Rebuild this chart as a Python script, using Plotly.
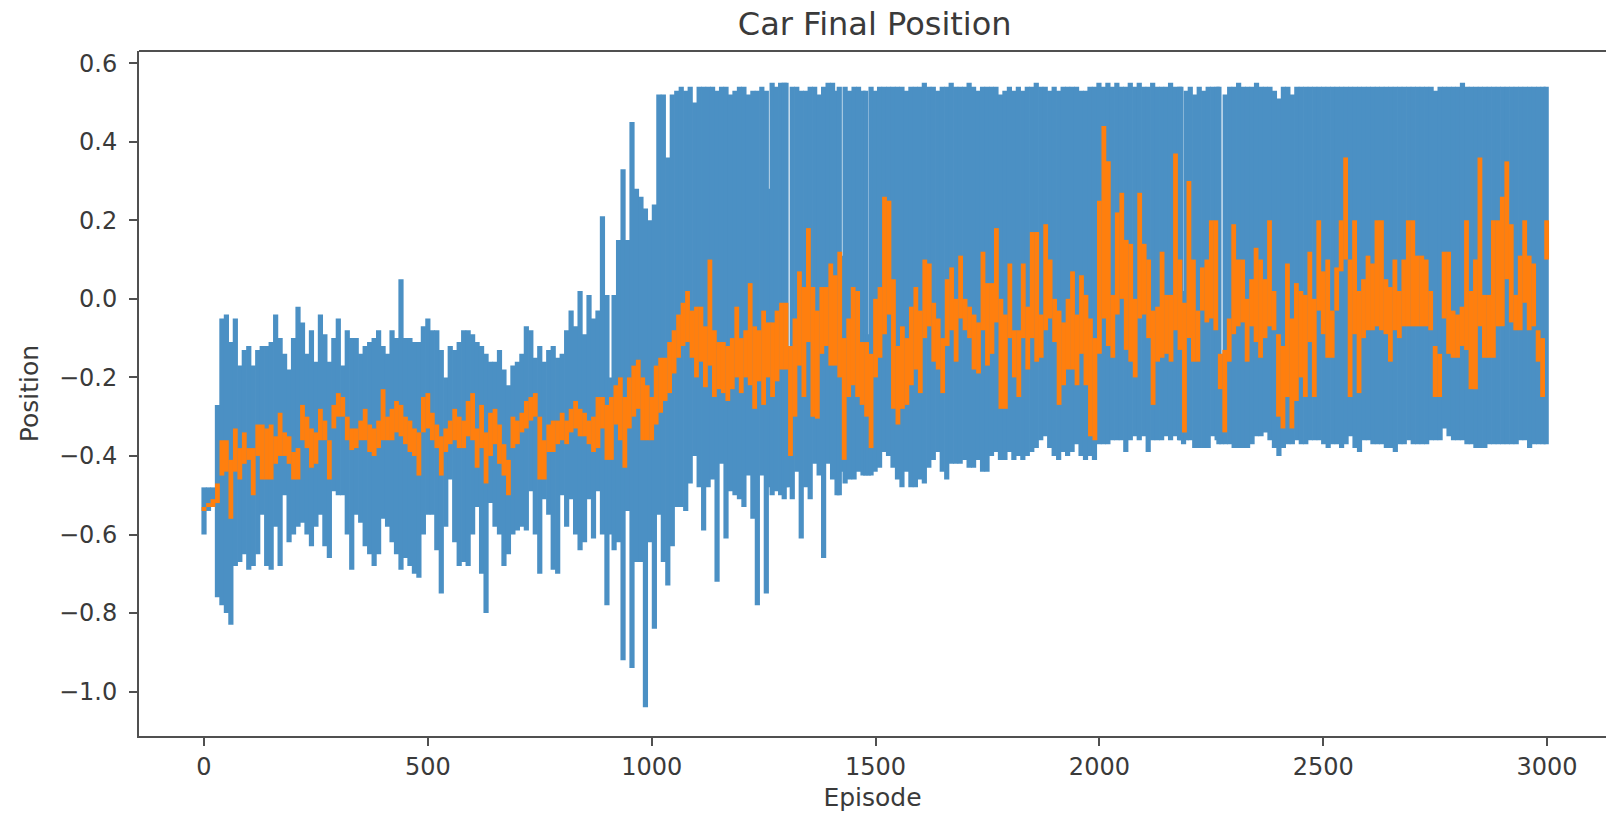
import plotly.graph_objects as go

# Blue series: the range swept by the raw per-episode values
blue_episodes = [
 0,10,20,30,40,50,60,70,80,90,
 100,110,120,130,140,150,160,170,180,190,
 200,210,220,230,240,250,260,270,280,290,
 300,310,320,330,340,350,360,370,380,390,
 400,410,420,430,440,450,460,470,480,490,
 500,510,520,530,540,550,560,570,580,590,
 600,610,620,630,640,650,660,670,680,690,
 700,710,720,730,740,750,760,770,780,790,
 800,810,820,830,840,850,860,870,880,
 890,900,907,916,926,936,946,956,966,976,986,996,
 1006,1016,1026,1036,1046,1056,1066,1076,1086,1096,
 1106,1116,1126,1136,1146,1156,1166,1176,1186,1196,
 1206,1216,1226,1236,1246,1256,1264,1269,1278,1288,1296,1300,
 1306,1314,1324,1334,1344,1354,1364,1374,1384,1394,
 1404,1414,1419,1425,1432,1442,1452,1462,1472,1478,1484,1490,1499,
 1509,1519,1529,1539,1549,1559,1569,1579,1589,1599,
 1609,1619,1629,1639,1649,1659,1669,1679,1689,1699,
 1709,1719,1729,1739,1749,1759,1769,1779,1789,1799,
 1809,1819,1829,1839,1849,1859,1869,1879,1889,1899,
 1909,1919,1929,1939,1949,1959,1969,1979,1989,1999,
 2009,2019,2029,2039,2049,2059,2069,2079,2089,2099,
 2109,2119,2129,2139,2149,2159,2169,2179,2182,2188,2194,
 2203,2213,2223,2233,2243,2253,2263,2267,2273,2281,2291,
 2301,2311,2321,2331,2341,2351,2361,2371,2381,2391,
 2401,2411,2421,2431,2441,2451,2461,2471,2481,2491,
 2501,2511,2521,2531,2541,2551,2561,2571,2581,2591,
 2601,2611,2621,2631,2641,2651,2661,2671,2681,2691,
 2701,2711,2721,2731,2741,2751,2761,2771,2781,2791,
 2801,2811,2821,2831,2841,2851,2861,2871,2881,2891,
 2901,2911,2921,2931,2941,2951,2961,2971,2981,2991,2998,
]
blue_high = [
 -.48,-.48,-.48,-.27,-.05,-.04,-.11,-.05,-.17,-.13,
 -.12,-.17,-.13,-.12,-.12,-.11,-.04,-.10,-.14,-.18,
 -.10,-.02,-.06,-.14,-.08,-.16,-.04,-.09,-.16,-.10,
 -.05,-.17,-.08,-.10,-.10,-.14,-.12,-.11,-.10,-.08,
 -.12,-.14,-.08,-.10,.05,-.10,-.10,-.11,-.11,-.07,
 -.05,-.08,-.08,-.13,-.20,-.12,-.13,-.11,-.08,-.08,
 -.09,-.11,-.12,-.14,-.16,-.16,-.13,-.18,-.22,-.17,
 -.16,-.14,-.07,-.08,-.15,-.12,-.16,-.13,-.12,-.15,
 -.14,-.08,-.03,-.07,.02,-.09,.01,-.05,-.03,
 .21,.01,-.20,.01,.15,.33,.15,.45,.28,.26,.23,.20,
 .24,.52,.52,.36,.52,.53,.54,.53,.54,.50,
 .54,.54,.54,.54,.53,.54,.54,.52,.53,.54,
 .54,.52,.53,.53,.54,.53,.28,.55,.54,.55,.55,.55,
 -.12,.54,.54,.53,.53,.54,.54,.52,.54,.55,
 .55,.53,.54,.11,.54,.53,.54,.54,.53,.53,-.09,.54,.53,
 .54,.54,.54,.54,.54,.54,.53,.54,.54,.54,
 .55,.54,.54,.53,.54,.54,.55,.54,.54,.54,
 .55,.54,.53,.54,.54,.54,.54,.52,.53,.54,
 .53,.54,.53,.54,.54,.55,.54,.54,.53,.54,
 .53,.54,.54,.54,.54,.53,.53,.54,.54,.55,
 .54,.55,.54,.55,.54,.54,.55,.54,.55,.54,
 .54,.55,.54,.54,.54,.55,.54,.54,.54,.02,.53,
 .54,.52,.54,.53,.54,.54,.54,.54,-.14,.52,.54,
 .54,.55,.54,.54,.54,.55,.54,.54,.54,.53,
 .51,.54,.54,.52,.54,.54,.54,.54,.54,.54,
 .54,.54,.54,.54,.54,.54,.54,.54,.54,.54,
 .54,.54,.54,.54,.54,.54,.54,.54,.54,.54,
 .54,.54,.54,.54,.54,.53,.54,.54,.54,.54,
 .54,.55,.54,.54,.54,.54,.54,.54,.54,.54,
 .54,.54,.54,.54,.54,.54,.54,.54,.54,.54,.54,
]
blue_low = [
 -.60,-.54,-.53,-.76,-.78,-.80,-.83,-.68,-.67,-.65,
 -.69,-.68,-.65,-.55,-.68,-.69,-.58,-.68,-.50,-.62,
 -.60,-.58,-.57,-.60,-.63,-.58,-.55,-.63,-.66,-.49,
 -.50,-.50,-.60,-.69,-.55,-.57,-.63,-.65,-.68,-.65,
 -.56,-.58,-.62,-.65,-.69,-.66,-.68,-.70,-.71,-.60,
 -.55,-.55,-.64,-.75,-.58,-.46,-.62,-.68,-.67,-.68,
 -.60,-.53,-.70,-.80,-.52,-.58,-.60,-.68,-.65,-.60,
 -.59,-.58,-.59,-.49,-.60,-.70,-.51,-.55,-.69,-.70,
 -.50,-.58,-.51,-.60,-.64,-.62,-.51,-.61,-.49,
 -.60,-.78,-.60,-.64,-.62,-.92,-.54,-.94,-.67,-.67,-1.04,-.62,
 -.84,-.55,-.67,-.73,-.63,-.53,-.53,-.54,-.47,-.40,
 -.48,-.59,-.48,-.46,-.72,-.42,-.61,-.49,-.50,-.51,
 -.53,-.45,-.56,-.78,-.45,-.75,-.48,-.50,-.49,-.50,-.51,-.48,
 -.48,-.51,-.44,-.61,-.48,-.51,-.42,-.45,-.66,-.42,
 -.46,-.50,-.50,-.44,-.47,-.46,-.46,-.44,-.45,-.45,-.45,-.45,-.44,
 -.43,-.39,-.40,-.43,-.46,-.48,-.44,-.48,-.48,-.46,
 -.47,-.43,-.41,-.39,-.44,-.46,-.42,-.42,-.42,-.41,
 -.43,-.43,-.41,-.44,-.44,-.40,-.39,-.41,-.41,-.39,
 -.41,-.40,-.41,-.40,-.39,-.38,-.36,-.35,-.38,-.40,
 -.41,-.39,-.40,-.39,-.37,-.40,-.41,-.40,-.41,-.37,
 -.37,-.37,-.36,-.36,-.36,-.39,-.36,-.35,-.36,-.35,
 -.39,-.36,-.36,-.36,-.35,-.36,-.35,-.36,-.36,-.37,-.36,
 -.36,-.38,-.38,-.38,-.38,-.35,-.36,-.37,-.37,-.37,-.37,
 -.38,-.38,-.38,-.38,-.37,-.35,-.35,-.34,-.36,-.38,
 -.40,-.38,-.37,-.37,-.36,-.37,-.37,-.36,-.36,-.36,
 -.37,-.38,-.37,-.37,-.38,-.37,-.35,-.38,-.39,-.36,
 -.36,-.37,-.37,-.37,-.38,-.38,-.39,-.37,-.37,-.36,
 -.37,-.37,-.37,-.37,-.36,-.36,-.36,-.33,-.35,-.36,
 -.36,-.36,-.37,-.37,-.38,-.38,-.38,-.37,-.37,-.37,
 -.37,-.37,-.37,-.37,-.36,-.36,-.38,-.37,-.37,-.37,-.37,
]

# Orange series: smoothed values, high and low of each 10-episode column
orange_episodes = [e for e in range(0, 3000, 10)] + [2999]
orange_high = [
 -.53,-.52,-.51,-.47,-.36,-.36,-.41,-.33,-.38,-.34,
 -.38,-.38,-.32,-.32,-.33,-.32,-.35,-.29,-.34,-.35,
 -.39,-.38,-.27,-.30,-.33,-.34,-.28,-.31,-.36,-.27,
 -.24,-.25,-.30,-.33,-.33,-.31,-.28,-.32,-.33,-.31,
 -.23,-.30,-.28,-.26,-.27,-.30,-.31,-.33,-.34,-.25,
 -.24,-.29,-.32,-.35,-.33,-.31,-.28,-.30,-.31,-.26,
 -.24,-.33,-.27,-.34,-.29,-.28,-.32,-.37,-.41,-.30,
 -.31,-.29,-.26,-.25,-.24,-.30,-.36,-.32,-.31,-.31,
 -.29,-.31,-.28,-.26,-.28,-.29,-.31,-.30,-.25,-.25,
 -.27,-.25,-.22,-.20,-.25,-.20,-.17,-.155,-.20,-.22,
 -.25,-.17,-.15,-.15,-.11,-.08,-.04,-.01,.02,-.03,
 -.02,-.02,-.07,.10,-.08,-.11,-.11,-.12,-.10,-.02,
 -.10,-.08,.04,-.07,-.08,-.03,-.06,-.06,-.03,-.01,
 -.01,-.12,-.05,.07,.03,.18,.03,-.03,.03,.03,
 .09,.06,.12,-.10,-.05,.03,.02,-.11,-.11,-.14,
 .00,.03,.26,.25,.05,-.12,-.07,-.10,-.02,.03,
 -.03,.10,.09,-.01,-.05,-.10,.05,.08,.00,.11,
 .00,-.02,-.04,-.06,.12,.04,.04,.18,.00,-.04,
 .09,-.08,-.08,.09,-.02,.17,.17,-.04,.19,.10,
 .00,-.03,-.06,.00,.07,-.04,.06,.01,-.05,-.10,
 .25,.44,.35,.01,.22,.27,.15,.14,.00,.27,
 .14,.10,-.03,-.02,.12,.01,.01,.37,.10,-.01,
 .30,.10,-.03,.08,.10,.20,.20,-.14,-.13,-.05,
 .19,.10,.10,.00,.05,.13,.10,.05,.20,.02,
 -.09,-.12,.09,-.05,.04,.02,.01,.12,.00,.20,
 .07,.10,-.03,.08,.20,.36,.10,.20,.02,.05,
 .11,.09,.20,.20,.05,.03,.10,.02,.10,.20,
 .20,.11,.11,.10,.02,-.12,-.14,.12,.12,-.03,
 -.04,-.02,.20,.02,.10,.36,.01,.01,.20,.20,
 .26,.35,.19,.01,.11,.20,.11,.09,-.08,-.10,.20,
]
orange_low = [
 -.54,-.53,-.53,-.52,-.45,-.44,-.56,-.44,-.46,-.42,
 -.41,-.50,-.40,-.46,-.46,-.46,-.42,-.40,-.40,-.42,
 -.46,-.46,-.36,-.38,-.43,-.42,-.36,-.36,-.46,-.33,
 -.30,-.30,-.36,-.385,-.38,-.36,-.36,-.39,-.40,-.38,
 -.36,-.36,-.36,-.34,-.35,-.37,-.39,-.40,-.45,-.34,
 -.33,-.36,-.38,-.45,-.39,-.37,-.36,-.38,-.38,-.35,
 -.36,-.43,-.38,-.47,-.40,-.37,-.42,-.45,-.50,-.38,
 -.37,-.34,-.33,-.31,-.30,-.46,-.46,-.39,-.39,-.37,
 -.36,-.37,-.34,-.33,-.35,-.35,-.37,-.39,-.38,-.33,
 -.41,-.41,-.32,-.36,-.43,-.33,-.30,-.28,-.36,-.36,
 -.36,-.32,-.29,-.26,-.24,-.19,-.15,-.12,-.11,-.15,
 -.20,-.16,-.225,-.17,-.25,-.23,-.24,-.26,-.23,-.20,
 -.24,-.20,-.22,-.28,-.21,-.27,-.20,-.25,-.21,-.18,
 -.18,-.40,-.30,-.17,-.25,-.11,-.30,-.305,-.14,-.12,
 -.17,-.17,-.20,-.41,-.25,-.22,-.25,-.27,-.30,-.38,
 -.20,-.15,-.09,-.04,-.28,-.32,-.28,-.27,-.22,-.18,
 -.24,-.10,-.07,-.16,-.18,-.24,-.12,-.08,-.16,-.05,
 -.08,-.10,-.18,-.19,-.08,-.17,-.14,-.06,-.28,-.28,
 -.10,-.20,-.25,-.10,-.18,-.10,-.16,-.15,-.08,-.05,
 -.11,-.27,-.22,-.18,-.18,-.22,-.14,-.22,-.35,-.36,
 -.14,-.05,-.12,-.15,-.04,.00,-.13,-.16,-.20,-.05,
 -.04,-.10,-.27,-.16,-.15,-.14,-.16,-.08,-.13,-.34,
 -.10,-.16,-.16,-.03,-.06,-.05,-.08,-.23,-.34,-.16,
 -.09,-.07,-.06,-.16,-.07,-.11,-.15,-.10,-.07,-.08,
 -.30,-.33,-.25,-.33,-.26,-.20,-.25,-.11,-.25,-.03,
 -.09,-.15,-.15,-.03,.07,.10,-.25,-.09,-.24,-.10,
 -.08,-.08,-.07,-.08,-.09,-.16,-.08,-.10,-.07,-.07,
 -.07,-.07,-.07,-.07,-.08,-.25,-.25,-.05,-.14,-.15,
 -.15,-.12,-.13,-.23,-.23,-.07,-.15,-.15,-.15,-.07,
 -.07,.05,-.06,-.08,-.08,-.01,-.08,-.07,-.16,-.25,.10,
]

x_ticks = [0, 500, 1000, 1500, 2000, 2500, 3000]
y_ticks = [-1.0, -0.8, -0.6, -0.4, -0.2, 0.0, 0.2, 0.4, 0.6]

assert len(blue_episodes) == len(blue_high) == len(blue_low)
assert len(orange_episodes) == len(orange_high) == len(orange_low)


def columns(episodes, highs, lows):
    xs, ys = [], []
    for e, h, l in zip(episodes, highs, lows):
        xs += [e, e, None]
        ys += [h, l, None]
    return xs, ys


blue_x, blue_y = columns(blue_episodes, blue_high, blue_low)
orange_x, orange_y = columns(orange_episodes, orange_high, orange_low)

font = "DejaVu Sans"
ink = "#3a3a3a"
spine = "#505050"

fig = go.Figure()
fig.add_trace(go.Scatter(x=blue_x, y=blue_y, mode="lines", connectgaps=False,
                         line=dict(color="#4b90c4", width=5.2), hoverinfo="skip"))
fig.add_trace(go.Scatter(x=orange_x, y=orange_y, mode="lines", connectgaps=False,
                         line=dict(color="#ff7f0e", width=4.8), hoverinfo="skip"))

fig.update_layout(
    width=1606, height=814, showlegend=False,
    margin=dict(l=139, r=0, t=51, b=78),
    paper_bgcolor="white", plot_bgcolor="white",
    font=dict(family=font, size=24, color=ink),
    title=dict(text="Car Final Position", x=0.5015, xref="paper", xanchor="center",
               y=1 - 23.5 / 814, yref="container", yanchor="middle",
               font=dict(family=font, size=32, color=ink)),
    shapes=[dict(type="line", xref="paper", yref="paper", x0=0, x1=1, y0=1, y1=1,
                 line=dict(color=spine, width=2))],
)
fig.update_xaxes(range=[-145.2, 3131.6], tickvals=x_ticks, tickformat="d",
                 showgrid=False, zeroline=False, showline=True, linecolor=spine, linewidth=2,
                 ticks="outside", ticklen=8, tickwidth=1.6, tickcolor=spine,
                 title=dict(text="Episode", standoff=9, font=dict(family=font, size=25, color=ink)))
fig.update_yaxes(range=[-1.113, 0.631], tickvals=y_ticks, tickformat=".1f",
                 showgrid=False, zeroline=False, showline=True, linecolor=spine, linewidth=2,
                 ticks="outside", ticklen=8, tickwidth=1.6, tickcolor=spine, ticklabelstandoff=7,
                 title=dict(text="Position", standoff=13, font=dict(family=font, size=25, color=ink)))

fig.write_html("out.html", config={"displayModeBar": False},
               post_script="document.body.style.margin='0';document.body.style.overflow='hidden';")
